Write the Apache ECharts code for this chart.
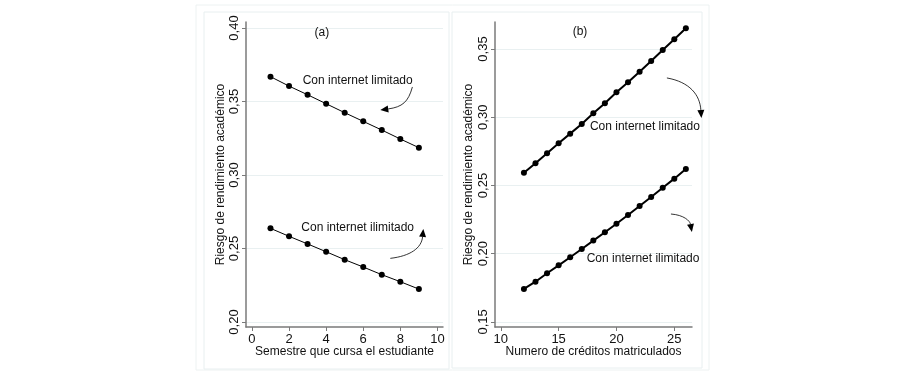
<!DOCTYPE html>
<html>
<head>
<meta charset="utf-8">
<script src="https://cdn.jsdelivr.net/npm/echarts@6/dist/echarts.min.js"></script>
<style>
  html, body { margin: 0; padding: 0; background: #fff; }
  #chart { width: 904px; height: 371px; }
</style>
</head>
<body>
<div id="chart"></div>
<script>
// panel (a): semestre
const semestres = [1, 2, 3, 4, 5, 6, 7, 8, 9];
const semLimitado = [0.3669, 0.3605, 0.3546, 0.3485, 0.3424, 0.3365, 0.3306, 0.3245, 0.3186];
const semIlimitado = [0.2637, 0.2583, 0.2531, 0.2478, 0.2424, 0.2374, 0.2322, 0.2274, 0.2224];
const semXTicks = [0, 2, 4, 6, 8, 10];
const semYTicks = [0.20, 0.25, 0.30, 0.35, 0.40];

// panel (b): creditos
const creditos = [12, 13, 14, 15, 16, 17, 18, 19, 20, 21, 22, 23, 24, 25, 26];
const credLimitado = [0.2594, 0.2663, 0.2736, 0.2809, 0.2880, 0.2951, 0.3029, 0.3102, 0.3183, 0.3256, 0.3334, 0.3412, 0.3493, 0.3571, 0.3652];
const credIlimitado = [0.1742, 0.1795, 0.1857, 0.1915, 0.1974, 0.2035, 0.2096, 0.2157, 0.2220, 0.2284, 0.2350, 0.2416, 0.2484, 0.2550, 0.2621];
const credXTicks = [10, 15, 20, 25];
const credYTicks = [0.15, 0.20, 0.25, 0.30, 0.35];

const FONT = 'Liberation Sans, Arial, sans-serif';
const AXIS_COLOR = '#7a7a7a';
const fmt = v => v.toFixed(2).replace('.', ',');

const chart = echarts.init(document.getElementById('chart'));

function xAxisCfg(idx, min, max, ticks, name) {
  return {
    type: 'value', gridIndex: idx, min, max, name,
    nameLocation: 'middle', nameGap: 19, nameMoveOverlap: false,
    nameTextStyle: { fontFamily: FONT, fontSize: 12, color: '#111' },
    axisLine: { onZero: false, lineStyle: { color: AXIS_COLOR, width: 1.5 } },
    axisTick: { length: 4, customValues: ticks, lineStyle: { color: AXIS_COLOR } },
    axisLabel: { customValues: ticks, margin: 6, fontFamily: FONT, fontSize: 13, color: '#111' },
    splitLine: { show: false },
  };
}

function yAxisCfg(idx, min, max, ticks, gap) {
  return {
    type: 'value', gridIndex: idx, min, max,
    name: 'Riesgo de rendimiento académico',
    nameLocation: 'middle', nameGap: gap, nameRotate: 90, nameMoveOverlap: false,
    nameTextStyle: { fontFamily: FONT, fontSize: 12, color: '#111' },
    axisLine: { show: true, onZero: false, lineStyle: { color: AXIS_COLOR, width: 1.5 } },
    axisTick: { show: true, length: 4, customValues: ticks, lineStyle: { color: AXIS_COLOR } },
    axisLabel: { customValues: ticks, rotate: 90, margin: 5, formatter: fmt,
      fontFamily: FONT, fontSize: 13, color: '#111' },
    splitLine: { show: true, lineStyle: { color: '#e9f0f1', width: 1 } },
  };
}

function lineSeries(idx, xs, ys, width) {
  return {
    type: 'line', xAxisIndex: idx, yAxisIndex: idx,
    data: xs.map((x, i) => [x, ys[i]]),
    symbol: 'circle', symbolSize: 6,
    itemStyle: { color: '#000' },
    lineStyle: { color: '#000', width },
    animation: false,
  };
}

chart.setOption({
  animation: false,
  grid: [
    { left: 246, top: 22, width: 197, height: 305 },
    { left: 495, top: 22, width: 197, height: 305 },
  ],
  xAxis: [
    xAxisCfg(0, -0.32, 10.3, semXTicks, 'Semestre que cursa el estudiante'),
    xAxisCfg(1, 9.5, 26.53, credXTicks, 'Numero de créditos matriculados'),
  ],
  yAxis: [
    yAxisCfg(0, 0.1966, 0.4041, semYTicks, 19),
    yAxisCfg(1, 0.1463, 0.3698, credYTicks, 20),
  ],
  series: [
    lineSeries(0, semestres, semLimitado, 1),
    lineSeries(0, semestres, semIlimitado, 1),
    lineSeries(1, creditos, credLimitado, 2),
    lineSeries(1, creditos, credIlimitado, 2),
  ],
});

// annotations, in data coordinates of each panel
const labels = [
  { g: 0, at: [3.77, 0.397], text: '(a)' },
  { g: 0, at: [5.7, 0.3641], text: 'Con internet limitado' },
  { g: 0, at: [5.7, 0.2644], text: 'Con internet ilimitado' },
  { g: 1, at: [16.85, 0.3625], text: '(b)' },
  { g: 1, at: [22.46, 0.2931], text: 'Con internet limitado' },
  { g: 1, at: [22.3, 0.1962], text: 'Con internet ilimitado' },
];
const arrows = [
  { g: 0, pts: [[8.65, 0.3599], [8.43, 0.3497], [8.11, 0.3463], [6.92, 0.3442]] },
  { g: 0, pts: [[7.46, 0.2433], [8.54, 0.2449], [9.14, 0.2503], [9.24, 0.2633]] },
  { g: 1, pts: [[24.36, 0.3288], [26.35, 0.3258], [27.21, 0.3163], [27.34, 0.2995]] },
  { g: 1, pts: [[24.71, 0.2291], [25.83, 0.2284], [26.35, 0.2240], [26.52, 0.2159]] },
];

const px = (g, p) => chart.convertToPixel({ gridIndex: g }, p);
const elements = [
  // figure and panel frames
  { type: 'rect', shape: { x: 196, y: 5, width: 513, height: 365 }, silent: true, z: -10,
    style: { fill: 'none', stroke: '#edf2f2', lineWidth: 1 } },
  { type: 'rect', shape: { x: 204, y: 12, width: 245, height: 357 }, silent: true, z: -10,
    style: { fill: 'none', stroke: '#e8eff0', lineWidth: 1 } },
  { type: 'rect', shape: { x: 452, y: 12, width: 250, height: 356 }, silent: true, z: -10,
    style: { fill: 'none', stroke: '#e8eff0', lineWidth: 1 } },
];
labels.forEach(l => {
  const p = px(l.g, l.at);
  elements.push({ type: 'text', x: p[0], y: p[1], silent: true,
    style: { text: l.text, fontFamily: FONT, fontSize: 12, fill: '#111', align: 'center', verticalAlign: 'middle' } });
});
arrows.forEach(a => {
  const [s, c1, c2, t] = a.pts.map(p => px(a.g, p));
  const dx = t[0] - c2[0], dy = t[1] - c2[1];
  const len = Math.hypot(dx, dy) || 1;
  const ux = dx / len, uy = dy / len;
  const hl = 8, hw = 3.5;
  const base = [t[0] - ux * hl, t[1] - uy * hl];
  elements.push({ type: 'bezierCurve', silent: true,
    shape: { x1: s[0], y1: s[1], cpx1: c1[0], cpy1: c1[1], cpx2: c2[0], cpy2: c2[1], x2: base[0], y2: base[1] },
    style: { stroke: '#000', lineWidth: 0.8, fill: 'none' } });
  elements.push({ type: 'polygon', silent: true,
    shape: { points: [t, [base[0] - uy * hw, base[1] + ux * hw], [base[0] + uy * hw, base[1] - ux * hw]] },
    style: { fill: '#000' } });
});
chart.setOption({ graphic: { elements } });
</script>
</body>
</html>
